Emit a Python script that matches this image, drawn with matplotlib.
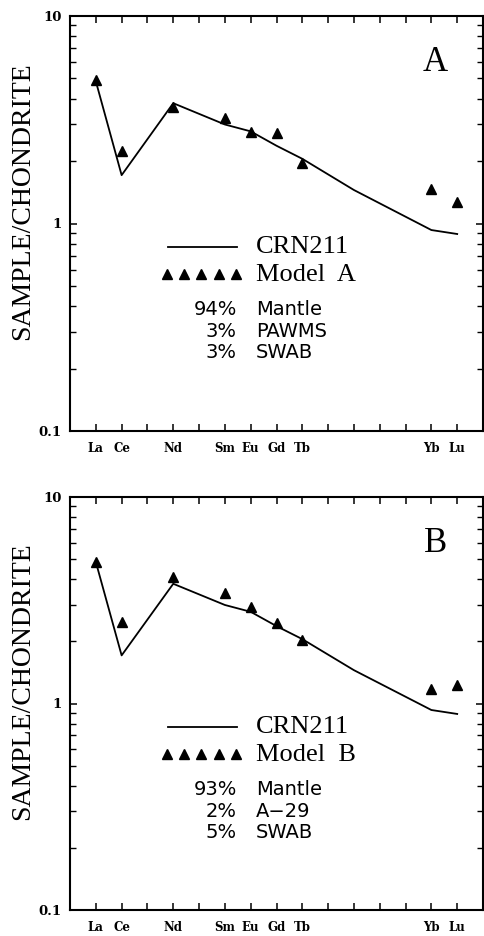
import matplotlib
matplotlib.use('Agg')
import matplotlib.pyplot as plt
from matplotlib.ticker import LogLocator, NullFormatter, FixedFormatter, FixedLocator

# REE order along the x axis
elements = ['La', 'Ce', 'Pr', 'Nd', 'Pm', 'Sm', 'Eu', 'Gd', 'Tb', 'Dy', 'Ho', 'Er', 'Tm', 'Yb', 'Lu']
shownLabels = ['La', 'Ce', 'Nd', 'Sm', 'Eu', 'Gd', 'Tb', 'Yb', 'Lu']

# CRN211 (line)
crnElements = ['La', 'Ce', 'Nd', 'Sm', 'Eu', 'Gd', 'Tb', 'Ho', 'Yb', 'Lu']
crn211 = [4.85, 1.71, 3.80, 3.00, 2.78, 2.37, 2.05, 1.45, 0.93, 0.89]

# models (triangles)
modelElements = ['La', 'Ce', 'Nd', 'Sm', 'Eu', 'Gd', 'Tb', 'Yb', 'Lu']
modelA = [4.90, 2.24, 3.63, 3.21, 2.75, 2.74, 1.95, 1.46, 1.27]
modelB = [4.85, 2.49, 4.11, 3.44, 2.94, 2.45, 2.02, 1.17, 1.23]

mixA = [('94%', 'Mantle'), ('3%', 'PAWMS'), ('3%', 'SWAB')]
mixB = [('93%', 'Mantle'), ('2%', 'A\u221229'), ('5%', 'SWAB')]

serif = 'Liberation Serif'
tickFont = 'DejaVu Serif'

fig = plt.figure(figsize=(4.84, 9.36), dpi=100)


def drawPanel(rect, model, modelName, letter, mix):
    ax = fig.add_axes(rect)
    ax.set_yscale('log')
    ax.set_ylim(0.1, 10)
    ax.set_xlim(-1, 15)

    crnX = [elements.index(e) for e in crnElements]
    modelX = [elements.index(e) for e in modelElements]
    ax.plot(crnX, crn211, color='black', lw=1.3)
    ax.plot(modelX, model, linestyle='none', marker='^', color='black', ms=7.5)

    # ticks
    ax.xaxis.set_major_locator(FixedLocator(range(len(elements))))
    ax.set_xticklabels([e if e in shownLabels else '' for e in elements],
                       fontfamily=tickFont, fontweight='bold', fontsize=8.5)
    ax.tick_params(axis='x', which='both', direction='in', top=True, length=5, width=1.1, pad=8)
    ax.yaxis.set_minor_locator(LogLocator(base=10, subs=range(2, 10)))
    ax.yaxis.set_minor_formatter(NullFormatter())
    ax.yaxis.set_major_locator(FixedLocator([0.1, 1, 10]))
    ax.yaxis.set_major_formatter(FixedFormatter(['0.1', '1', '10']))
    for lab in ax.get_yticklabels():
        lab.set_fontfamily(tickFont)
        lab.set_fontweight('bold')
        lab.set_fontsize(9.5)
    ax.tick_params(axis='y', which='major', direction='in', right=True, length=5, width=1.1, pad=6)
    ax.tick_params(axis='y', which='minor', direction='in', right=True, length=4, width=1.0)
    for s in ax.spines.values():
        s.set_linewidth(1.5)

    ax.text(-0.115, 0.555, 'SAMPLE/CHONDRITE', transform=ax.transAxes, rotation=90,
            ha='center', va='center', fontfamily=serif, fontsize=20)
    ax.text(0.884, 0.887, letter, transform=ax.transAxes, ha='center', va='center',
            fontfamily=serif, fontsize=25)

    # legend drawn by hand
    ax.plot([0.237, 0.404], [0.4426, 0.4426], transform=ax.transAxes, color='black', lw=1.3)
    ax.plot([0.235, 0.277, 0.318, 0.360, 0.402], [0.378] * 5, transform=ax.transAxes,
            linestyle='none', marker='^', color='black', ms=7)
    ax.text(0.45, 0.4426, 'CRN211', transform=ax.transAxes, ha='left', va='center',
            fontfamily=serif, fontsize=19)
    ax.text(0.45, 0.376, modelName, transform=ax.transAxes, ha='left', va='center',
            fontfamily=serif, fontsize=19)
    rowY = [0.2928, 0.2386, 0.188]
    for (pct, name), y in zip(mix, rowY):
        ax.text(0.4036, y, pct, transform=ax.transAxes, ha='right', va='center',
                fontfamily='DejaVu Sans', fontsize=14)
        ax.text(0.4496, y, name, transform=ax.transAxes, ha='left', va='center',
                fontfamily='DejaVu Sans', fontsize=14)
    return ax


axA = drawPanel([70 / 484, 1 - 431 / 936, 413 / 484, 415 / 936], modelA, 'Model  A', 'A', mixA)
axB = drawPanel([70 / 484, 1 - 910 / 936, 413 / 484, 413 / 936], modelB, 'Model  B', 'B', mixB)

fig.savefig('out.png', dpi=100)
